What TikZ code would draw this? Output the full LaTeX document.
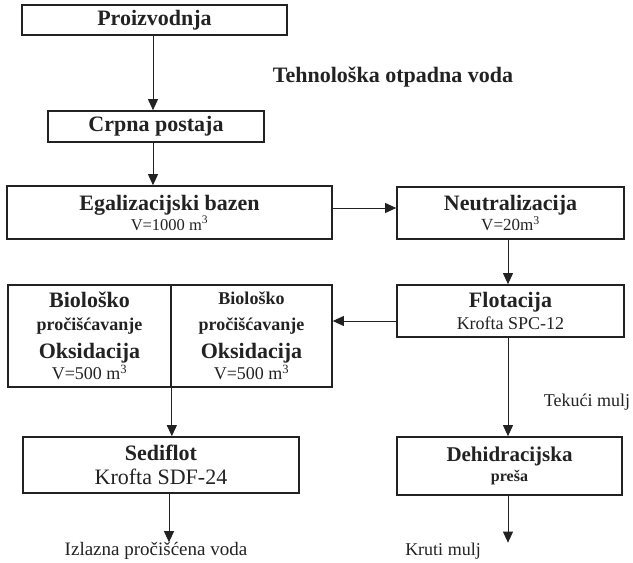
\documentclass[tikz,border=0pt]{standalone}
\usepackage{fontspec}
\setmainfont{Liberation Serif}
\usetikzlibrary{arrows.meta}
\definecolor{ink}{HTML}{222222}
% font size with a fixed line pitch
\newcommand{\fsz}[2]{\fontsize{#1}{#2}\selectfont}

\begin{document}
\begin{tikzpicture}[x=1pt,y=-1pt,
  box/.style={draw=ink, line width=1.7pt, inner sep=0pt, align=center, text=ink},
  pitch/.style={font=\fsz{22}{#1}},
  arr/.style={draw=ink, line width=0.9pt, -{Triangle[width=10pt,length=11pt]}},
  lbl/.style={inner sep=0pt, text=ink},
]
\useasboundingbox (0,0) rectangle (633,563);

% process boxes
\node[box, pitch=22, minimum width=265pt, minimum height=30pt] (prod) at (154.5,20)
  {\bfseries Proizvodnja};
\node[box, pitch=22, minimum width=216pt, minimum height=31pt] (crpna) at (156,126.5)
  {\bfseries Crpna postaja};
\node[box, pitch=20, minimum width=325pt, minimum height=53pt] (egal) at (169.5,212.5)
  {\bfseries Egalizacijski bazen\\
   \fsz{16.5}{20}V=1000 m\textsuperscript{3}};
\node[box, pitch=20, minimum width=227pt, minimum height=52pt] (neutr) at (510.5,213)
  {\bfseries Neutralizacija\\
   \fsz{17}{20}V=20m\textsuperscript{3}};
\node[box, pitch=22, minimum width=227pt, minimum height=52pt] (flot) at (510.5,311)
  {\bfseries Flotacija\\
   \fsz{18}{22}Krofta SPC-12};
\node[box, pitch=24, minimum width=163pt, minimum height=102pt] (bioL) at (89.5,336)
  {\bfseries Biološko\\[-1pt]
   \fsz{18}{24}\bfseries pročišćavanje\\[4pt]
   \bfseries Oksidacija\\[-3pt]
   \fsz{18}{24}V=500 m\textsuperscript{3}};
\node[box, pitch=24, minimum width=161pt, minimum height=102pt] (bioR) at (251.5,336)
  {\fsz{18}{24}\bfseries Biološko\\[2pt]
   \fsz{18}{24}\bfseries pročišćavanje\\[4pt]
   \bfseries Oksidacija\\[-3pt]
   \fsz{18}{24}V=500 m\textsuperscript{3}};
\node[box, pitch=24, minimum width=276pt, minimum height=56pt] (sed) at (161,465)
  {\bfseries Sediflot\\
   Krofta SDF-24};
\node[box, pitch=20, minimum width=225pt, minimum height=58pt] (dehid) at (509.5,466)
  {\fsz{21}{20}\bfseries Dehidracijska\\
   \fsz{16}{20}\bfseries preša};

% free labels
\node[lbl] (tov) at (393,77) {\fsz{22}{22}\bfseries Tehnološka otpadna voda};
\node[lbl] (tek) at (587,402) {\fsz{18}{18}Tekući mulj};
\node[lbl] (izl) at (156,551) {\fsz{19}{19}Izlazna pročišćena voda};
\node[lbl] (kru) at (443,551) {\fsz{18}{18}Kruti mulj};

% connectors
\draw[arr] ([xshift=-1.5pt]prod.south) -- ([xshift=-3pt]crpna.north);
\draw[arr] ([xshift=-3pt]crpna.south) -- ([xshift=-16.5pt]egal.north);
\coordinate (en) at ([yshift=4.5pt]egal.east);
\draw[arr] (en) -- (en -| neutr.west);
\coordinate (nf) at ([xshift=-2.5pt]neutr.south);
\draw[arr] (nf) -- (nf |- flot.north);
\coordinate (fb) at ([yshift=-10pt]flot.west);
\draw[arr] (fb) -- (fb -| bioR.east);
\coordinate (bs) at (bioL.south east);
\draw[arr] (bs) -- (bs |- sed.north);
\coordinate (fd) at ([xshift=-2.5pt]flot.south);
\draw[arr] (fd) -- (fd |- dehid.north);
\coordinate (so) at ([xshift=8pt]sed.south);
\draw[arr] (so) -- (so |- izl.north);
\coordinate (dk) at ([xshift=-1.5pt]dehid.south);
\draw[arr] (dk) -- (dk |- kru.north);
\end{tikzpicture}
\end{document}
